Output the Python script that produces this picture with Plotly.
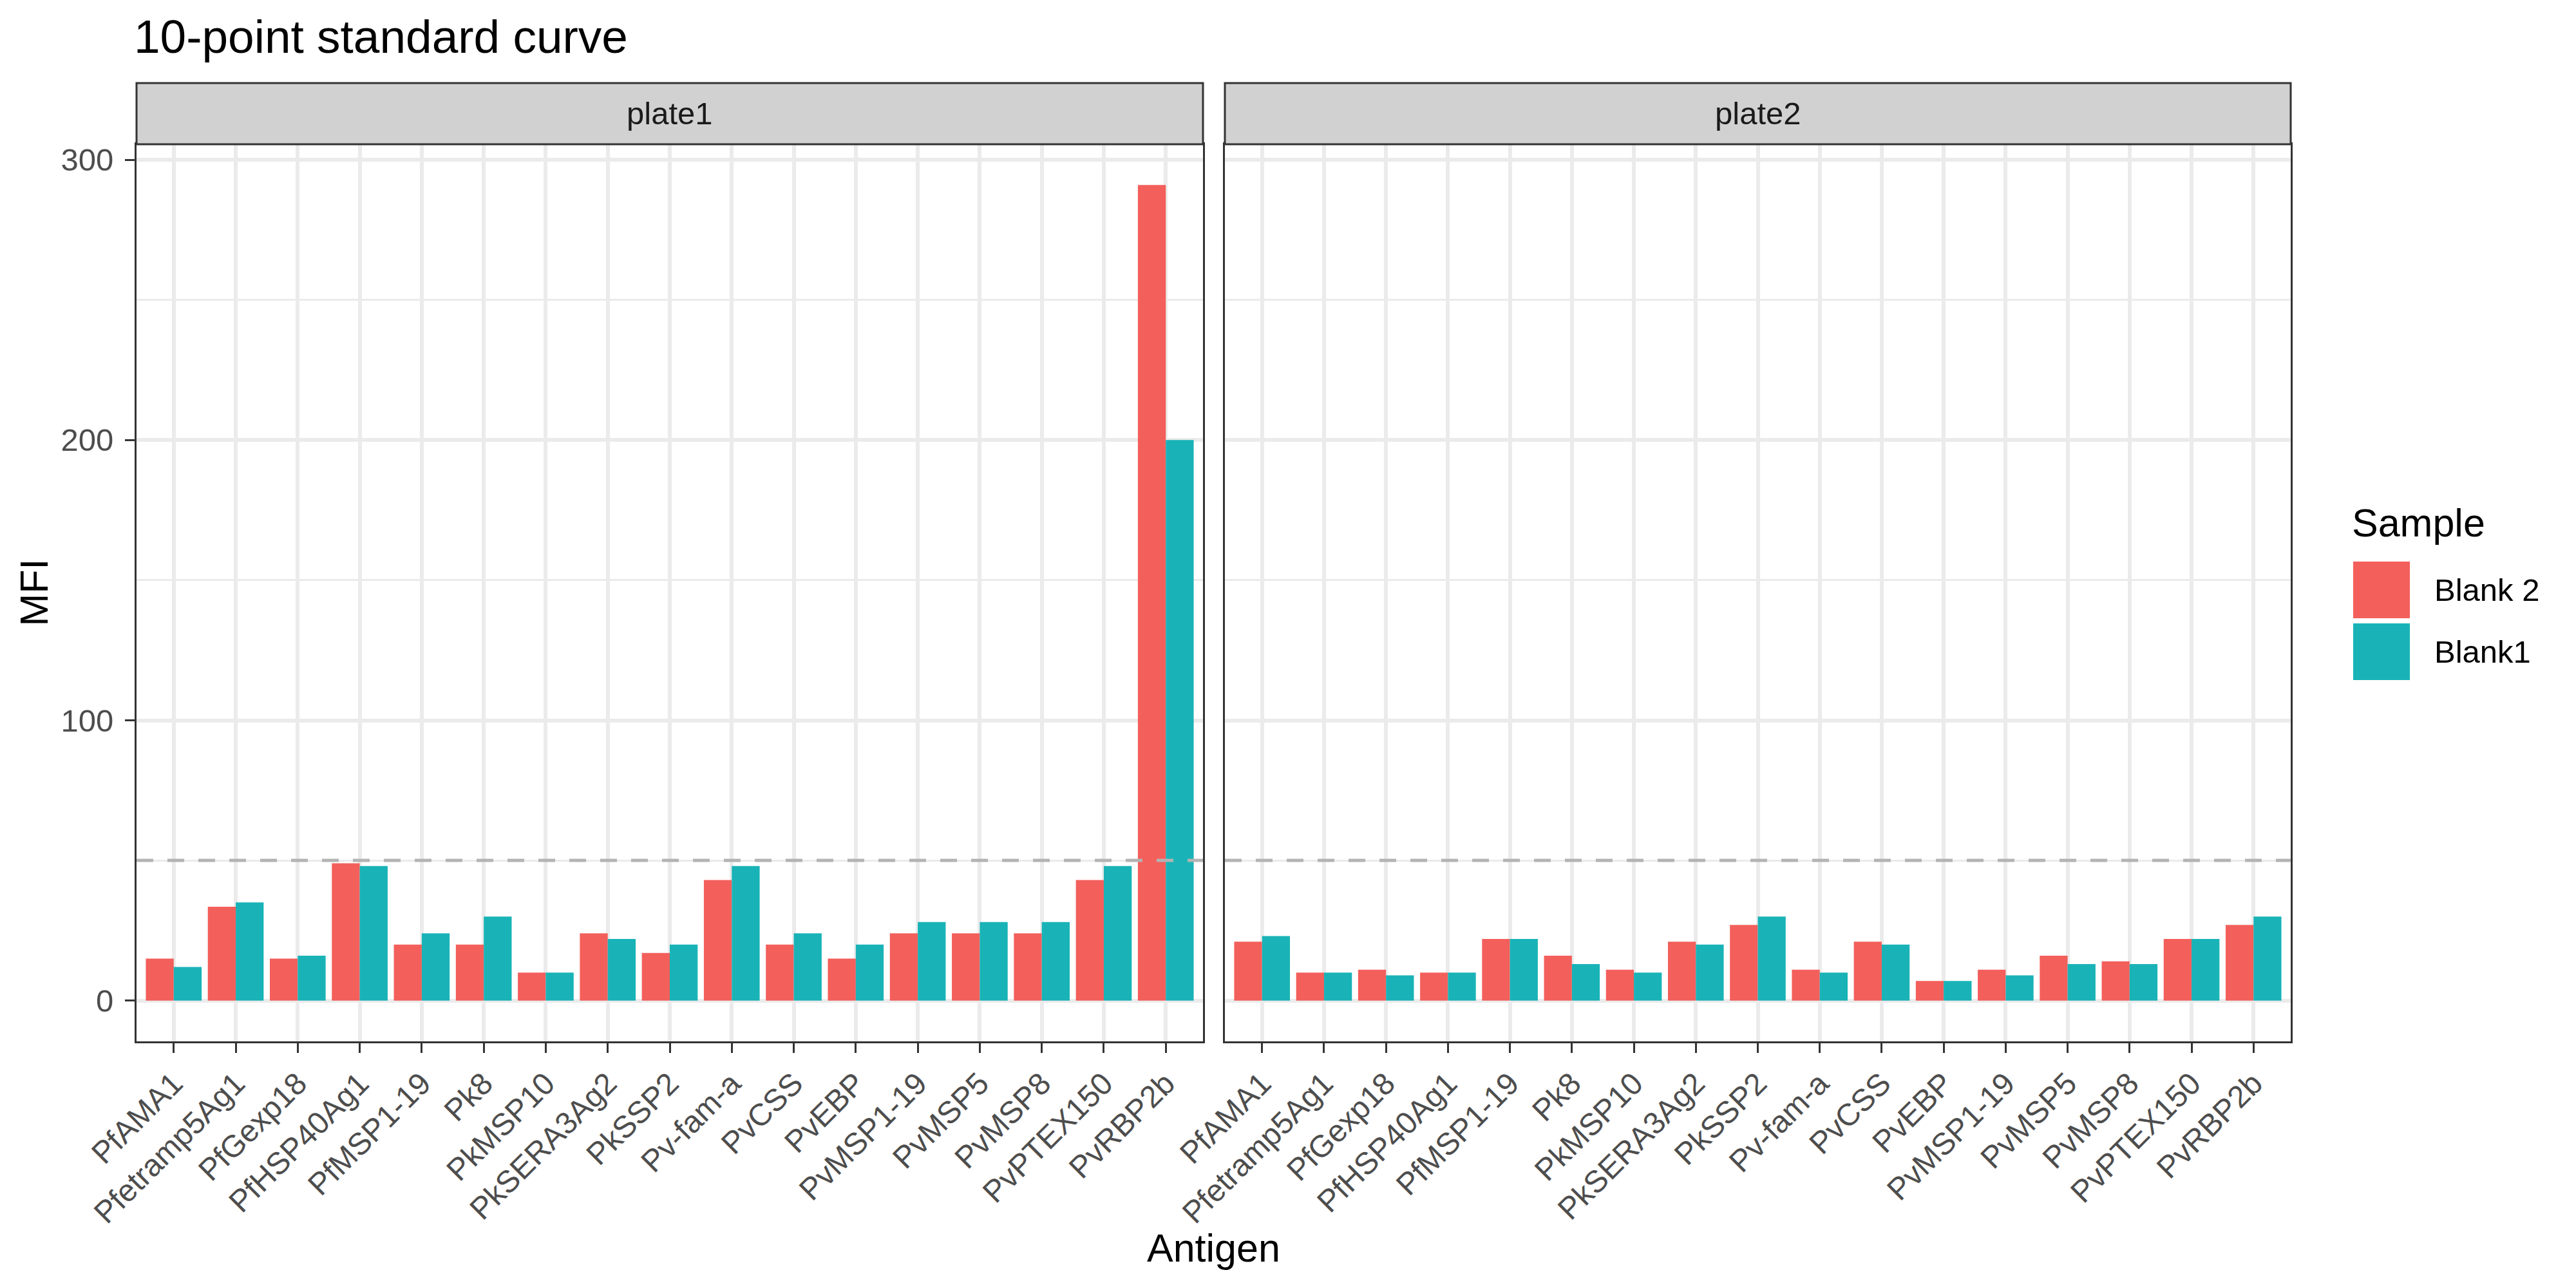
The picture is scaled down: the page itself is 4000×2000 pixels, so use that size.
import plotly.graph_objects as go

# ---------------- data ----------------
antigens = ["PfAMA1", "Pfetramp5Ag1", "PfGexp18", "PfHSP40Ag1", "PfMSP1-19", "Pk8",
            "PkMSP10", "PkSERA3Ag2", "PkSSP2", "Pv-fam-a", "PvCSS", "PvEBP",
            "PvMSP1-19", "PvMSP5", "PvMSP8", "PvPTEX150", "PvRBP2b"]
plate1_blank2 = [15, 33.5, 15, 49, 20, 20, 10, 24, 17, 43, 20, 15, 24, 24, 24, 43, 291]
plate1_blank1 = [12, 35, 16, 48, 24, 30, 10, 22, 20, 48, 24, 20, 28, 28, 28, 48, 200]
plate2_blank2 = [21, 10, 11, 10, 22, 16, 11, 21, 27, 11, 21, 7, 11, 16, 14, 22, 27]
plate2_blank1 = [23, 10, 9, 10, 22, 13, 10, 20, 30, 10, 20, 7, 9, 13, 13, 22, 30]
panels = ["plate1", "plate2"]
samples = ["Blank 2", "Blank1"]
threshold = 50
y_ticks = [0, 100, 200, 300]

# ---------------- style ----------------
W, H = 4000, 2000
FONT = "Liberation Sans, Arial, sans-serif"
COLORS = {"Blank 2": "#F35F5B", "Blank1": "#19B3B7"}
GRID = "#EBEBEB"
DARK = "#333333"
TICKTXT = "#4D4D4D"

def px(xp):
    return xp / W

def py(yp):
    return 1 - yp / H

panel_x = [(212, 1868), (1902, 3557)]
panel_top, panel_bot = 224, 1617
strip_top = 129

fig = go.Figure()

data = {
    ("plate1", "Blank 2"): plate1_blank2,
    ("plate1", "Blank1"): plate1_blank1,
    ("plate2", "Blank 2"): plate2_blank2,
    ("plate2", "Blank1"): plate2_blank1,
}

for i, p in enumerate(panels):
    xa = "x" if i == 0 else "x2"
    ya = "y" if i == 0 else "y2"
    for s in samples:
        fig.add_trace(go.Bar(
            x=antigens, y=data[(p, s)], name=s, xaxis=xa, yaxis=ya,
            marker=dict(color=COLORS[s], line=dict(width=0)),
            offsetgroup=s, showlegend=False,
        ))

yrange = [-14.55, 305.55]
common_x = dict(
    type="category", categoryorder="array", categoryarray=antigens,
    range=[-0.6, 16.6], showgrid=True, gridcolor=GRID, gridwidth=6,
    ticks="outside", ticklen=15, tickwidth=3, tickcolor=DARK,
    tickangle=-45, tickfont=dict(family=FONT, size=48, color=TICKTXT),
    showline=True, mirror=True, linecolor=DARK, linewidth=3, zeroline=False,
    automargin=False,
)
common_y = dict(
    range=yrange, tickmode="array", tickvals=y_ticks,
    showgrid=True, gridcolor=GRID, gridwidth=6, zeroline=False,
    minor=dict(dtick=50, tick0=0, showgrid=True, gridcolor=GRID, gridwidth=3, ticks=""),
    showline=True, mirror=True, linecolor=DARK, linewidth=3,
    domain=[py(panel_bot), py(panel_top)], automargin=False,
)

fig.update_layout(
    width=W, height=H, margin=dict(l=0, r=0, t=0, b=0, autoexpand=False),
    paper_bgcolor="white", plot_bgcolor="white",
    barmode="group", bargap=0.1, bargroupgap=0,
    showlegend=False,
    font=dict(family=FONT),
    xaxis=dict(**common_x, domain=[px(panel_x[0][0]), px(panel_x[0][1])], anchor="y"),
    xaxis2=dict(**common_x, domain=[px(panel_x[1][0]), px(panel_x[1][1])], anchor="y2"),
    yaxis=dict(**common_y, anchor="x", ticks="outside", ticklen=15, tickwidth=3,
               tickcolor=DARK, ticklabelstandoff=8,
               tickfont=dict(family=FONT, size=49, color=TICKTXT)),
    yaxis2=dict(**common_y, anchor="x2", matches="y", showticklabels=False, ticks=""),
)

shapes = []
annotations = []

# strips
for i, p in enumerate(panels):
    x0, x1 = panel_x[i]
    shapes.append(dict(type="rect", xref="paper", yref="paper",
                       x0=px(x0), x1=px(x1), y0=py(panel_top), y1=py(strip_top),
                       fillcolor="#D1D1D1", line=dict(color=DARK, width=3), layer="above"))
    annotations.append(dict(text=p, xref="paper", yref="paper",
                            x=px((x0 + x1) / 2), y=py((strip_top + panel_top) / 2),
                            xanchor="center", yanchor="middle", showarrow=False,
                            font=dict(family=FONT, size=49, color="#1A1A1A")))

# threshold dashed line
for xd, yr in [("x domain", "y"), ("x2 domain", "y2")]:
    shapes.append(dict(type="line", xref=xd, yref=yr, x0=0, x1=1,
                       y0=threshold, y1=threshold,
                       line=dict(color="#B3B3B3", width=5, dash="26px,22px"),
                       layer="above"))

# title
annotations.append(dict(text="10-point standard curve", xref="paper", yref="paper",
                        x=px(206), y=py(57), xanchor="left", yanchor="middle",
                        showarrow=False, font=dict(family=FONT, size=73, color="black")))
# axis titles
annotations.append(dict(text="Antigen", xref="paper", yref="paper",
                        x=px((panel_x[0][0] + panel_x[1][1]) / 2), y=py(1938),
                        xanchor="center", yanchor="middle", showarrow=False,
                        font=dict(family=FONT, size=61, color="black")))
annotations.append(dict(text="MFI", xref="paper", yref="paper",
                        x=px(52), y=py((panel_top + panel_bot) / 2),
                        xanchor="center", yanchor="middle", showarrow=False, textangle=-90,
                        font=dict(family=FONT, size=61, color="black")))

# legend (manual)
annotations.append(dict(text="Sample", xref="paper", yref="paper",
                        x=px(3650), y=py(812), xanchor="left", yanchor="middle",
                        showarrow=False, font=dict(family=FONT, size=61, color="black")))
key_tops = [872, 968]
for s, kt in zip(samples, key_tops):
    shapes.append(dict(type="rect", xref="paper", yref="paper",
                       x0=px(3654), x1=px(3742), y0=py(kt + 88), y1=py(kt),
                       fillcolor=COLORS[s], line=dict(width=0)))
    annotations.append(dict(text=s, xref="paper", yref="paper",
                            x=px(3778), y=py(kt + 44), xanchor="left", yanchor="middle",
                            showarrow=False, font=dict(family=FONT, size=49, color="black")))

fig.update_layout(shapes=shapes, annotations=annotations)
fig.write_html("out.html", config={"displayModeBar": False},
               post_script="document.body.style.margin='0px';document.body.style.padding='0px';")
